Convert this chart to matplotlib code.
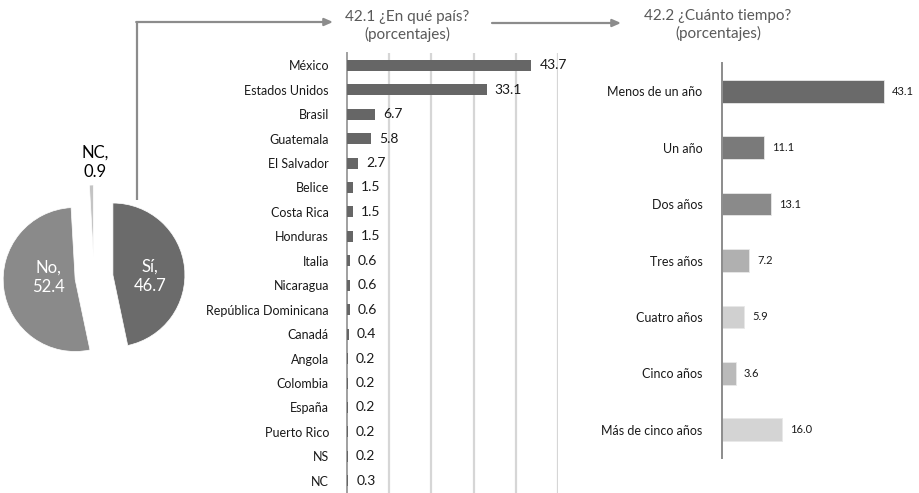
import matplotlib
matplotlib.use("Agg")
import matplotlib.pyplot as plt

plt.rcParams['font.family'] = ['Lato', 'DejaVu Sans']

# ---- data ----
pie_labels = ["Sí", "No", "NC"]
pie_values = [46.7, 52.4, 0.9]
pie_colors = ["#6b6b6b", "#8a8a8a", "#c4c4c4"]

countries = ["México", "Estados Unidos", "Brasil", "Guatemala", "El Salvador", "Belice",
             "Costa Rica", "Honduras", "Italia", "Nicaragua", "República Dominicana",
             "Canadá", "Angola", "Colombia", "España", "Puerto Rico", "NS", "NC"]
country_values = [43.7, 33.1, 6.7, 5.8, 2.7, 1.5, 1.5, 1.5, 0.6, 0.6, 0.6, 0.4,
                  0.2, 0.2, 0.2, 0.2, 0.2, 0.3]

durations = ["Menos de un año", "Un año", "Dos años", "Tres años", "Cuatro años",
             "Cinco años", "Más de cinco años"]
duration_values = [43.1, 11.1, 13.1, 7.2, 5.9, 3.6, 16.0]
duration_colors = ["#6a6a6a", "#7a7a7a", "#8a8a8a", "#b0b0b0", "#d0d0d0", "#bababa", "#d4d4d4"]

title1 = "42.1 ¿En qué país?\n(porcentajes)"
title2 = "42.2 ¿Cuánto tiempo?\n(porcentajes)"

W, H = 919, 493
fig = plt.figure(figsize=(W / 100, H / 100), dpi=100)

# ---- overlay axes in pixel coordinates (y up) ----
ov = fig.add_axes([0, 0, 1, 1])
wedges, _ = ov.pie(pie_values, colors=pie_colors, startangle=90, counterclock=False,
                   explode=[19, 19, 20], center=(94, H - 277), radius=72,
                   wedgeprops=dict(edgecolor="white", linewidth=0.5))
ov.set_xlim(0, W)
ov.set_ylim(0, H)
ov.set_aspect('auto')
ov.axis('off')

pie_txt = {"Sí": (150, H - 276, "white"), "No": (48, H - 277, "white"), "NC": (95, H - 162, "black")}
for lab, v in zip(pie_labels, pie_values):
    x, y, c = pie_txt[lab]
    ov.text(x, y, f"{lab},\n{v}", ha="center", va="center", color=c, fontsize=12,
            linespacing=1.25)

arrow_c = "#8c8c8c"
ov.plot([137, 137], [H - 200, H - 22], color=arrow_c, lw=1.6, solid_capstyle="butt")
ov.annotate("", xy=(333, H - 22), xytext=(136.2, H - 22),
            arrowprops=dict(arrowstyle="-|>,head_length=0.5,head_width=0.22", color=arrow_c, lw=1.6,
                            shrinkA=0, shrinkB=0))
ov.annotate("", xy=(621, H - 23), xytext=(492, H - 23),
            arrowprops=dict(arrowstyle="-|>,head_length=0.5,head_width=0.22", color=arrow_c, lw=1.6,
                            shrinkA=0, shrinkB=0))
ov.text(407, H - 26, title1, ha="center", va="center", color="#595959", fontsize=11,
        linespacing=1.3)
ov.text(718, H - 25, title2, ha="center", va="center", color="#595959", fontsize=11,
        linespacing=1.3)

# ---- middle chart ----
ax1 = fig.add_axes([347 / W, 0, 211 / W, 440 / H])
y1 = range(len(countries))
ax1.barh(y1, country_values, height=0.45, color="#666666", linewidth=0, zorder=3)
ax1.set_ylim(len(countries) - 0.5, -0.5)
ax1.set_xlim(0, 50)
ax1.set_xticks([10, 20, 30, 40, 50])
ax1.set_xticklabels([])
ax1.tick_params(axis="x", length=0)
ax1.grid(axis="x", color="#d6d6d6", lw=1.6, zorder=0)
ax1.set_yticks(list(y1))
ax1.set_yticklabels(countries, fontsize=9, color="#1a1a1a")
ax1.tick_params(axis="y", length=0, pad=13)
for s in ["top", "right", "bottom"]:
    ax1.spines[s].set_visible(False)
ax1.spines["left"].set_color("#a0a0a0")
ax1.spines["left"].set_linewidth(1.4)
for i, v in enumerate(country_values):
    ax1.text(v + 1.9, i, f"{v:.1f}", va="center", ha="left", fontsize=10, color="#1a1a1a",
             zorder=4)

# ---- right chart ----
ax2 = fig.add_axes([722 / W, 35 / H, 188 / W, 395 / H])
y2 = range(len(durations))
ax2.barh(y2, duration_values, height=0.4, color=duration_colors, edgecolor="#e8e8e8",
         linewidth=0.6)
ax2.set_ylim(len(durations) - 0.5, -0.5)
ax2.set_xlim(0, 50)
ax2.set_xticks([])
ax2.set_yticks(list(y2))
ax2.set_yticklabels(durations, fontsize=9, color="#1a1a1a")
ax2.tick_params(axis="y", length=0, pad=14)
for s in ["top", "right", "bottom"]:
    ax2.spines[s].set_visible(False)
ax2.spines["left"].set_color("#8c8c8c")
ax2.spines["left"].set_linewidth(1.4)
for i, v in enumerate(duration_values):
    ax2.text(v + 2.1, i, f"{v:.1f}", va="center", ha="left", fontsize=8, color="#1a1a1a")

fig.savefig("out.png", dpi=100)
